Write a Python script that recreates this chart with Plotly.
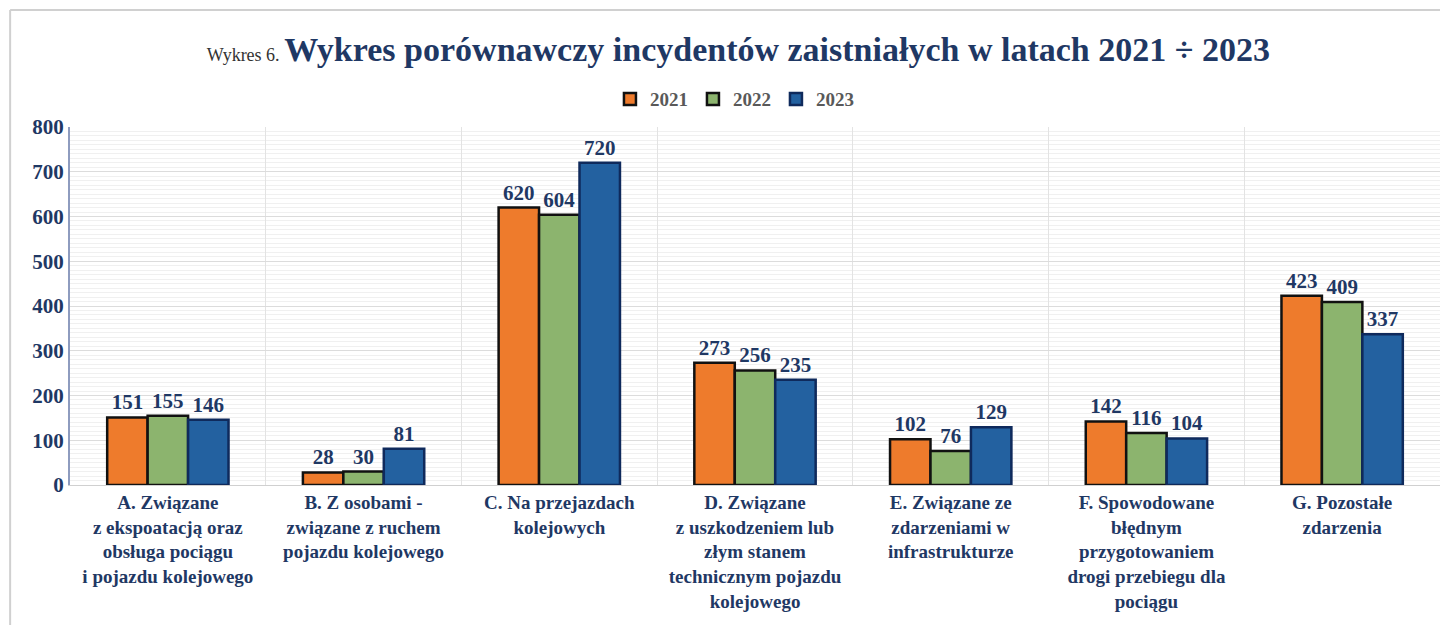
import plotly.graph_objects as go

categories = [
    "A. Związane<br>z ekspoatacją oraz<br>obsługa pociągu<br>i pojazdu kolejowego",
    "B. Z osobami -<br>związane z ruchem<br>pojazdu kolejowego",
    "C. Na przejazdach<br>kolejowych",
    "D. Związane<br>z uszkodzeniem lub<br>złym stanem<br>technicznym pojazdu<br>kolejowego",
    "E. Związane ze<br>zdarzeniami w<br>infrastrukturze",
    "F. Spowodowane<br>błędnym<br>przygotowaniem<br>drogi przebiegu dla<br>pociągu",
    "G. Pozostałe<br>zdarzenia",
]
years = ["2021", "2022", "2023"]
values_2021 = [151, 28, 620, 273, 102, 142, 423]
values_2022 = [155, 30, 604, 256, 76, 116, 409]
values_2023 = [146, 81, 720, 235, 129, 104, 337]

navy = "#1F3864"
font_family = "Liberation Serif"

# fill / outline per year
fills = ["#EE7B2C", "#8CB46E", "#2361A0"]
outlines = ["#111111", "#111111", "#0F2A5C"]

fig = go.Figure()
for name, vals, fc, lc in zip(years, [values_2021, values_2022, values_2023], fills, outlines):
    fig.add_trace(go.Bar(
        x=categories, y=vals, name=name,
        marker=dict(color=fc, line=dict(color=lc, width=2.5)),
        text=vals, textposition="outside", cliponaxis=False,
        textfont=dict(family=font_family, size=21, color=navy, weight="bold"),
    ))

# page has an 8px body margin; keep the figure small enough to avoid scrollbars
fig.update_layout(
    width=1432, height=617,
    margin=dict(l=62, r=0, t=119, b=140),
    paper_bgcolor="white", plot_bgcolor="white",
    barmode="group", bargap=0.38, bargroupgap=0.0,
    font=dict(family=font_family, color=navy),
    title=dict(
        text="<span style='font-size:18px;font-weight:normal;color:#333333'>Wykres 6. </span>"
             "<b>Wykres porównawczy incydentów zaistniałych w latach 2021 ÷ 2023</b>",
        x=0.510, xanchor="center", y=0.933, yanchor="middle",
        font=dict(family=font_family, size=34, color=navy),
    ),
    legend=dict(
        orientation="h", x=0.485, xanchor="center", y=1.078, yanchor="middle",
        font=dict(family=font_family, size=19, color="#595959", weight="bold"),
        itemwidth=30, tracegroupgap=0,
    ),
)

fig.update_yaxes(
    range=[0, 800], dtick=100,
    showgrid=True, gridcolor="#DCDCDC", gridwidth=1,
    minor=dict(dtick=10, showgrid=True, gridcolor="#F0F0F0", gridwidth=1),
    showline=True, linecolor="#8E9CBF", linewidth=2,
    tickfont=dict(family=font_family, size=21, color=navy, weight="bold"),
    zeroline=False, ticks="",
)
fig.update_xaxes(
    tickson="boundaries", showgrid=True, gridcolor="#E3E3E3", gridwidth=1,
    showline=True, linecolor="#D0D0D0", linewidth=1,
    tickfont=dict(family=font_family, size=19, color=navy, weight="bold"),
    ticks="",
)

# outer chart frame (top and left edges only, the rest is cut off)
fig.add_shape(type="line", xref="paper", yref="paper",
              x0=-0.0437, x1=1.0, y0=1.327, y1=1.327,
              line=dict(color="#D0D0D0", width=2), layer="below")
fig.add_shape(type="line", xref="paper", yref="paper",
              x0=-0.0437, x1=-0.0437, y0=-0.5, y1=1.327,
              line=dict(color="#D0D0D0", width=2), layer="below")

fig.write_html("out.html")
